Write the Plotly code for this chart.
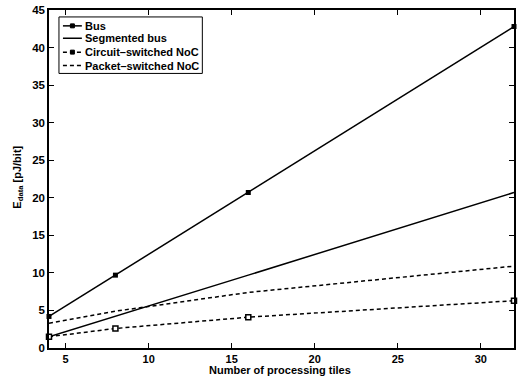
import plotly.graph_objects as go

tiles = [4, 8, 16, 32]
bus = [4.2, 9.7, 20.7, 42.8]
seg_bus = [1.5, 4.2, 9.7, 20.7]
circuit_noc = [1.5, 2.6, 4.1, 6.3]
packet_noc = [3.3, 4.9, 7.4, 10.9]
series_names = ["Bus", "Segmented bus", "Circuit\u2013switched NoC", "Packet\u2013switched NoC"]

x_ticks = [5, 10, 15, 20, 25, 30]
y_ticks = [0, 5, 10, 15, 20, 25, 30, 35, 40, 45]

W, H = 520, 378
L, R, T, B = 49, 4, 7, 30
PW, PH = W - L - R, H - T - B


def px(x):
    return (x - L) / PW


def py(y):
    return (H - B - y) / PH


DASH = "4px,3px"
fig = go.Figure()
fig.add_trace(go.Scatter(x=tiles, y=bus, name=series_names[0], mode="lines+markers", cliponaxis=False,
                         line=dict(color="black", width=1.5),
                         marker=dict(symbol="square", size=5, color="black")))
fig.add_trace(go.Scatter(x=tiles, y=seg_bus, name=series_names[1], mode="lines", cliponaxis=False,
                         line=dict(color="black", width=1.5)))
fig.add_trace(go.Scatter(x=tiles, y=circuit_noc, name=series_names[2], mode="lines+markers", cliponaxis=False,
                         line=dict(color="black", width=1.5, dash=DASH),
                         marker=dict(symbol="square", size=5, color="white",
                                     line=dict(color="black", width=1.5))))
fig.add_trace(go.Scatter(x=tiles, y=packet_noc, name=series_names[3], mode="lines", cliponaxis=False,
                         line=dict(color="black", width=1.5, dash=DASH)))

font = dict(family="Liberation Sans, Arial, sans-serif", size=11, color="black", weight="bold")
xtick_font = dict(family="Liberation Sans, Arial, sans-serif", size=11, color="black", weight="bold")
ytick_font = dict(family="Liberation Sans, Arial, sans-serif", size=11.5, color="black", weight="bold")
axis_common = dict(showgrid=False, zeroline=False, showline=True, linecolor="black", linewidth=1.5,
                   mirror="allticks", ticks="inside", ticklen=5, tickcolor="black", tickwidth=1)

shapes = []
annotations = []
# legend box
shapes.append(dict(type="rect", xref="paper", yref="paper", x0=px(59), x1=px(203), y0=py(71), y1=py(14),
                   line=dict(color="black", width=1), fillcolor="white", layer="above"))
rows = [23, 35.5, 49.5, 63]
dashes = ["solid", "solid", DASH, DASH]
has_marker = [True, False, True, False]
for name, yy, dsh, mk in zip(series_names, rows, dashes, has_marker):
    shapes.append(dict(type="line", xref="paper", yref="paper", x0=px(63), x1=px(82), y0=py(yy), y1=py(yy),
                       line=dict(color="black", width=1.5, dash=dsh), layer="above"))
    if mk:
        shapes.append(dict(type="rect", xref="paper", yref="paper", x0=px(70.5), x1=px(74.5),
                           y0=py(yy + 2), y1=py(yy - 2), line=dict(color="black", width=1),
                           fillcolor="black", layer="above"))
    annotations.append(dict(text=name, xref="paper", yref="paper", x=px(83), y=py(yy),
                            xanchor="left", yanchor="middle", showarrow=False, font=font))

# axis titles
annotations.append(dict(text="Number of processing tiles", xref="paper", yref="paper",
                        x=px(L + PW / 2 - 2), y=py(370.5), xanchor="center", yanchor="middle",
                        showarrow=False, font=font))
annotations.append(dict(text="E<sub>data</sub> [pJ/bit]", xref="paper", yref="paper",
                        x=px(17), y=py(176), xanchor="center", yanchor="middle", textangle=-90,
                        showarrow=False, font=font))

fig.update_layout(
    width=W, height=H,
    margin=dict(l=L, r=R, t=T, b=B),
    paper_bgcolor="white", plot_bgcolor="white",
    font=font,
    xaxis=dict(range=[4, 32], tickvals=x_ticks, ticklabelstandoff=0, tickfont=xtick_font, **axis_common),
    yaxis=dict(range=[0, 45], tickvals=y_ticks, tickfont=ytick_font, **axis_common),
    showlegend=False,
    shapes=shapes,
    annotations=annotations,
)

fig.write_html("out.html", config={"displayModeBar": False},
               post_script="document.body.style.margin='0';document.body.style.overflow='hidden';")
